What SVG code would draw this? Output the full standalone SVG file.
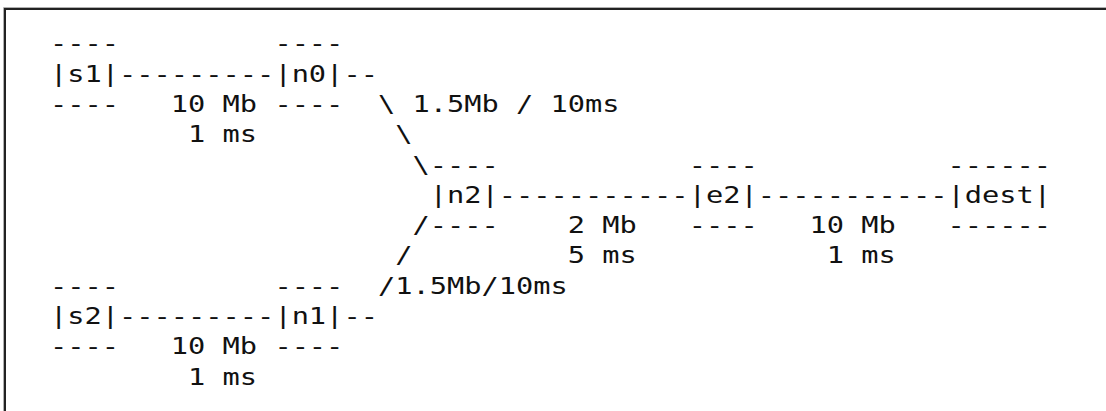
<svg xmlns="http://www.w3.org/2000/svg" width="1106" height="411" viewBox="0 0 1106 411">
  <style>
    .t { font-family: "DejaVu Sans Mono", "Liberation Mono", monospace; font-size: 23px; fill: #111; white-space: pre; }
  </style>
  <rect width="1106" height="411" fill="#fff"/>
  <!-- frame: top and left edges -->
  <g id="frame" fill="none">
    <path d="M3.5 411 V7.5 H1106" stroke="#b0b0b0" stroke-width="1"/>
    <path d="M5 411 V9 H1106" stroke="#222" stroke-width="2"/>
  </g>
  <!-- monospace grid: 13.847 units per column, stretched 1.2465x horizontally (17.26px per column) -->
  <g transform="scale(1.2465 1)" xml:space="preserve">
    <g id="s1" class="t">
      <text x="40.11" y="51.4">----</text>
      <text x="40.11" y="81.7">|s1|</text>
      <text x="40.11" y="112">----</text>
    </g>
    <g id="n0" class="t">
      <text x="220.13" y="51.4">----</text>
      <text x="220.13" y="81.7">|n0|</text>
      <text x="220.13" y="112">----</text>
    </g>
    <g id="s2" class="t">
      <text x="40.11" y="293.8">----</text>
      <text x="40.11" y="324.1">|s2|</text>
      <text x="40.11" y="354.4">----</text>
    </g>
    <g id="n1" class="t">
      <text x="220.13" y="293.8">----</text>
      <text x="220.13" y="324.1">|n1|</text>
      <text x="220.13" y="354.4">----</text>
    </g>
    <g id="n2" class="t">
      <text x="344.76" y="172.6">----</text>
      <text x="344.76" y="202.9">|n2|</text>
      <text x="344.76" y="233.2">----</text>
    </g>
    <g id="e2" class="t">
      <text x="552.48" y="172.6">----</text>
      <text x="552.48" y="202.9">|e2|</text>
      <text x="552.48" y="233.2">----</text>
    </g>
    <g id="dest" class="t">
      <text x="760.19" y="172.6">------</text>
      <text x="760.19" y="202.9">|dest|</text>
      <text x="760.19" y="233.2">------</text>
    </g>
    <g id="connectors" class="t">
      <!-- s1 - n0 -->
      <text x="95.50" y="81.7">---------</text>
      <text x="137.04" y="112">10 Mb</text>
      <text x="150.89" y="142.3">1 ms</text>
      <!-- n0 - n2 -->
      <text x="275.52" y="81.7">--</text>
      <text x="303.21" y="112">\ 1.5Mb / 10ms</text>
      <text x="317.06" y="142.3">\</text>
      <text x="330.91" y="172.6">\</text>
      <!-- n1 - n2 -->
      <text x="330.91" y="233.2">/</text>
      <text x="317.06" y="263.5">/</text>
      <text x="303.21" y="293.8">/1.5Mb/10ms</text>
      <text x="275.52" y="324.1">--</text>
      <!-- s2 - n1 -->
      <text x="95.50" y="324.1">---------</text>
      <text x="137.04" y="354.4">10 Mb</text>
      <text x="150.89" y="384.7">1 ms</text>
      <!-- n2 - e2 -->
      <text x="400.15" y="202.9">-----------</text>
      <text x="455.54" y="233.2">2 Mb</text>
      <text x="455.54" y="263.5">5 ms</text>
      <!-- e2 - dest -->
      <text x="607.87" y="202.9">-----------</text>
      <text x="649.41" y="233.2">10 Mb</text>
      <text x="663.26" y="263.5">1 ms</text>
    </g>
  </g>
</svg>
